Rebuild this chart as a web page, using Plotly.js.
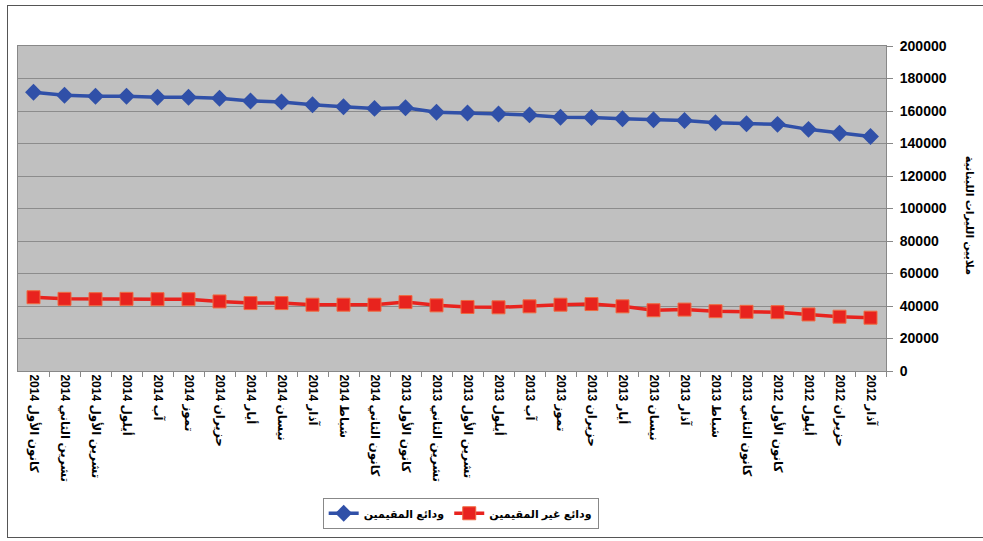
<!DOCTYPE html>
<html>
<head>
<meta charset="utf-8">
<script src="https://cdn.plot.ly/plotly-3.0.1.min.js"></script>
<style>
html,body{margin:0;padding:0;background:#fff;}
#chart{width:983px;height:541px;}
#frame{position:absolute;left:7px;top:5px;width:1000px;height:533px;border:1.5px solid #555;pointer-events:none;box-sizing:border-box;}
</style>
</head>
<body>
<div id="chart"></div>
<div id="frame"></div>
<script>
// Categories in chronological order (axis is reversed: latest on the left)
const categories = [
  "آذار 2012", "حزيران 2012", "أيلول 2012", "كانون الأول 2012",
  "كانون الثاني 2013", "شباط 2013", "آذار 2013", "نيسان 2013", "أيار 2013",
  "حزيران 2013", "تموز 2013", "آب 2013", "أيلول 2013", "تشرين الأول 2013",
  "تشرين الثاني 2013", "كانون الأول 2013", "كانون الثاني 2014", "شباط 2014",
  "آذار 2014", "نيسان 2014", "أيار 2014", "حزيران 2014", "تموز 2014",
  "آب 2014", "أيلول 2014", "تشرين الأول 2014", "تشرين الثاني 2014", "كانون الأول 2014"
];
const residents = [
  144300, 146300, 148700, 151800, 152200, 152800, 154200, 154600, 155200,
  156000, 156200, 157600, 158200, 158800, 159200, 162000, 161600, 162600,
  163800, 165600, 166200, 167800, 168500, 168500, 169100, 169100, 169700, 171500
];
const nonResidents = [
  32800, 33400, 34800, 36200, 36400, 36800, 37800, 37400, 39800,
  41200, 40800, 39800, 39200, 39400, 40400, 42400, 40800, 40800,
  40800, 41800, 41800, 42800, 44200, 44200, 44400, 44200, 44400, 45400
];
const seriesNames = ["ودائع المقيمين", "ودائع غير المقيمين"];
const yTitle = "ملايين الليرات اللبنانية";

const fontFam = "Liberation Sans, Arial, DejaVu Sans, sans-serif";

const traces = [
  {
    x: categories, y: residents, name: seriesNames[0], type: "scatter", mode: "lines+markers",
    line: {color: "#3050a8", width: 3.5},
    marker: {symbol: "diamond", size: 13, color: "#3050a8"}
  },
  {
    x: categories, y: nonResidents, name: seriesNames[1], type: "scatter", mode: "lines+markers",
    line: {color: "#e8231e", width: 3.5},
    marker: {symbol: "square", size: 13, color: "#e8231e", line: {color: "#f06a40", width: 1}}
  }
];

const layout = {
  width: 983, height: 541,
  margin: {l: 18, r: 97, t: 46, b: 161},
  paper_bgcolor: "#ffffff",
  plot_bgcolor: "#c0c0c0",
  showlegend: true,
  legend: {
    orientation: "h", x: 0.51, xanchor: "center", y: -0.39, yanchor: "top",
    bordercolor: "#888", borderwidth: 1, bgcolor: "#fff",
    font: {family: fontFam, size: 11, color: "#000", weight: "bold"}
  },
  xaxis: {
    type: "category",
    range: [27.5, -0.5],
    tickangle: 90,
    ticks: "outside", ticklen: 5, tickcolor: "#888",
    tickson: "boundaries",
    showgrid: false,
    showline: true, linecolor: "#888", linewidth: 1,
    mirror: true,
    tickfont: {family: fontFam, size: 12, color: "#000", weight: "bold"}
  },
  yaxis: {
    side: "right",
    range: [0, 200000],
    dtick: 20000,
    ticks: "outside", ticklen: 6, tickcolor: "#888",
    ticklabelstandoff: 4,
    showgrid: true, gridcolor: "#8c8c8c", gridwidth: 1,
    zeroline: false,
    showline: true, linecolor: "#888", linewidth: 1,
    mirror: true,
    tickformat: "d",
    tickfont: {family: fontFam, size: 14, color: "#000", weight: "bold"}
  },
  annotations: [{
    text: yTitle, xref: "paper", yref: "paper", x: 1.097, y: 0.48,
    xanchor: "center", yanchor: "middle", textangle: 90, showarrow: false,
    font: {family: fontFam, size: 11, color: "#000", weight: "bold"}
  }]
};

Plotly.newPlot("chart", traces, layout, {displayModeBar: false});
</script>
</body>
</html>
